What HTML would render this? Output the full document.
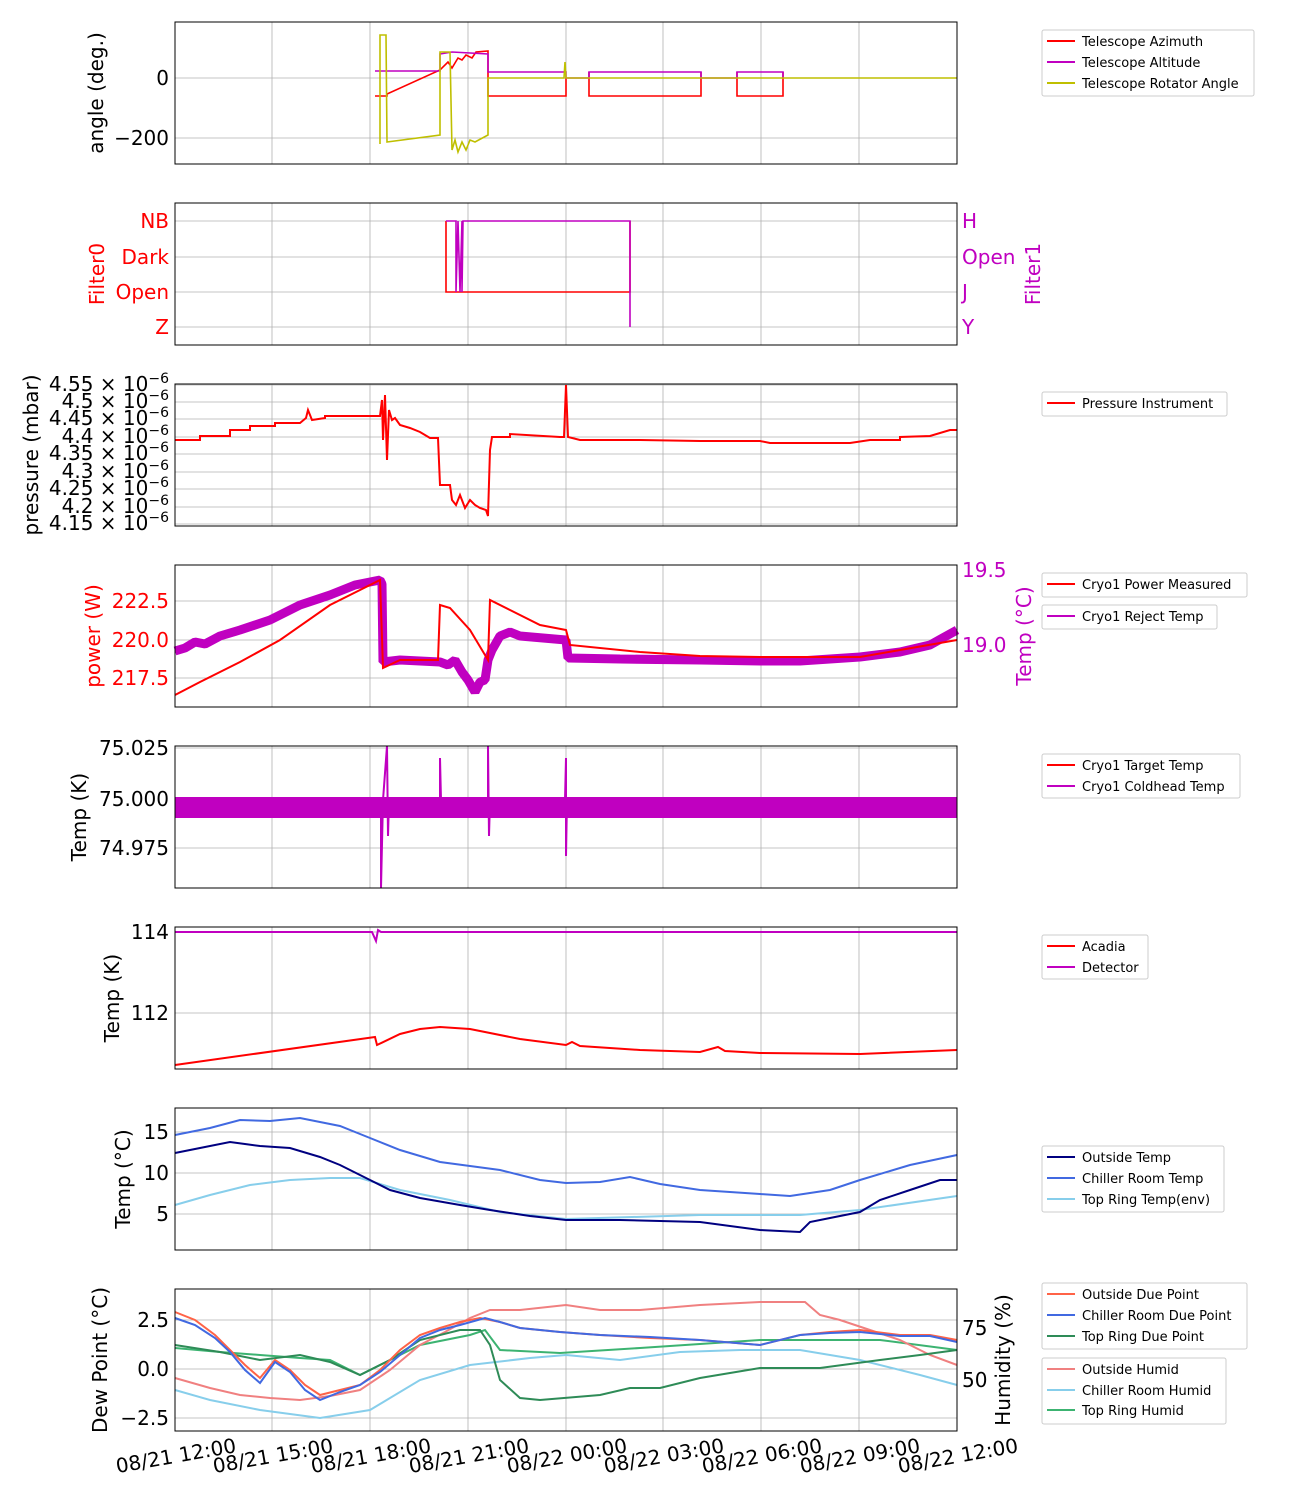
<!DOCTYPE html>
<html><head><meta charset="utf-8"><style>
body{margin:0;background:#fff}
svg{font-family:"DejaVu Sans","Liberation Sans",sans-serif}
.t{font-size:20px}
.l{font-size:13px}
</style></head><body>
<svg width="1300" height="1500" viewBox="0 0 1300 1500" xmlns="http://www.w3.org/2000/svg">
<defs>
<g id="vg" stroke="#b0b0b0" stroke-width="0.8">
<line x1="272" x2="272" y1="0" y2="142"/><line x1="370" x2="370" y1="0" y2="142"/><line x1="468" x2="468" y1="0" y2="142"/><line x1="566" x2="566" y1="0" y2="142"/><line x1="663" x2="663" y1="0" y2="142"/><line x1="761" x2="761" y1="0" y2="142"/><line x1="859" x2="859" y1="0" y2="142"/>
</g>
</defs>
<g fill="none">
<use href="#vg" y="22"/><use href="#vg" y="203"/><use href="#vg" y="384"/><use href="#vg" y="565"/><use href="#vg" y="746"/><use href="#vg" y="927"/><use href="#vg" y="1108"/><use href="#vg" y="1289"/>
<g stroke="#b0b0b0" stroke-width="0.8">
<line x1="175" x2="957" y1="78" y2="78"/><line x1="175" x2="957" y1="138" y2="138"/>
<line x1="175" x2="957" y1="221" y2="221"/><line x1="175" x2="957" y1="257" y2="257"/><line x1="175" x2="957" y1="292" y2="292"/><line x1="175" x2="957" y1="327" y2="327"/>
<line x1="175" x2="957" y1="385" y2="385"/><line x1="175" x2="957" y1="402" y2="402"/><line x1="175" x2="957" y1="419" y2="419"/><line x1="175" x2="957" y1="437" y2="437"/><line x1="175" x2="957" y1="454" y2="454"/><line x1="175" x2="957" y1="472" y2="472"/><line x1="175" x2="957" y1="489" y2="489"/><line x1="175" x2="957" y1="507" y2="507"/><line x1="175" x2="957" y1="524" y2="524"/>
<line x1="175" x2="957" y1="601" y2="601"/><line x1="175" x2="957" y1="640" y2="640"/><line x1="175" x2="957" y1="678" y2="678"/>
<line x1="175" x2="957" y1="748" y2="748"/><line x1="175" x2="957" y1="799" y2="799"/><line x1="175" x2="957" y1="848" y2="848"/>
<line x1="175" x2="957" y1="932" y2="932"/><line x1="175" x2="957" y1="1013" y2="1013"/>
<line x1="175" x2="957" y1="1132" y2="1132"/><line x1="175" x2="957" y1="1173" y2="1173"/><line x1="175" x2="957" y1="1214" y2="1214"/>
<line x1="175" x2="957" y1="1320" y2="1320"/><line x1="175" x2="957" y1="1369" y2="1369"/><line x1="175" x2="957" y1="1418" y2="1418"/>
</g>

<g stroke-width="1.6">
<polyline stroke="#ff0000" points="375,96 387,96 387,94 440,70 448,62 452,68 458,58 462,60 466,55 472,58 476,52 488,51 488,96 566,96 566,78 566,96"/>
<polyline stroke="#ff0000" points="589,72 589,96 701,96 701,72"/>
<polyline stroke="#ff0000" points="737,72 737,96 783,96 783,72"/>
<polyline stroke="#c000c0" points="375,71 440,71 440,54 452,52 488,54 488,72 566,72 566,78 589,78 589,72 701,72 701,78 737,78 737,72 783,72 783,78"/>
<polyline stroke="#bfbf00" points="380,144 380,35 386,35 387,142 440,135 440,52 450,52 452,150 455,140 458,152 462,142 466,150 470,140 475,142 488,135 488,78 564,78 565,62 566,78 957,78"/>
</g>
<polyline stroke="#ff0000" stroke-width="1.6" points="446,221 446,292 630,292 630,221"/>
<polyline stroke="#c000c0" stroke-width="1.6" points="446,221 456,221 456,292 458,221 460,292 462,221 462,292 463,221 630,221 630,327"/>
<polyline stroke="#ff0000" stroke-width="2" points="175,440 200,440 200,436 230,436 230,430 250,430 250,426 275,426 275,423 300,423 306,418 308,410 312,420 325,418 325,416 380,416 382,400 383,440 385,395 387,460 389,410 392,420 395,418 400,425 410,428 420,432 430,438 438,438 440,485 450,485 452,500 456,505 460,495 465,508 470,500 475,505 480,508 486,510 488,516 490,450 492,437 510,437 510,434 560,437 564,437 566,385 568,437 580,440 640,440 700,441 760,441 770,443 850,443 870,440 900,440 900,437 930,436 950,430 957,430"/>
<polyline stroke="#c000c0" stroke-width="9" stroke-linejoin="bevel" points="175,651 185,648 195,642 205,644 220,636 240,630 270,620 300,605 330,595 355,585 380,580 382,584 383,662 400,660 440,662 448,665 455,660 462,672 468,680 475,692 480,682 485,680 488,660 492,650 500,636 510,632 520,636 566,640 568,658 620,659 700,660 760,661 800,661 860,657 900,652 930,645 957,630"/>
<polyline stroke="#ff0000" stroke-width="2" points="175,695 200,682 240,662 280,640 330,605 360,590 380,580 383,668 400,660 438,660 440,605 450,608 470,630 488,660 490,600 510,610 540,625 566,630 570,645 640,652 700,656 760,657 860,657 900,650 957,640"/>
<rect x="175" y="797" width="782" height="21" fill="#c000c0"/>
<polyline stroke="#c000c0" stroke-width="2" points="381,800 381,888 383,800 387,746 388,836 389,800"/>
<polyline stroke="#c000c0" stroke-width="2" points="440,800 440,758 441,800"/>
<polyline stroke="#c000c0" stroke-width="2" points="488,800 488,746 489,836 490,800"/>
<polyline stroke="#c000c0" stroke-width="2" points="565,800 566,758 566,856 567,800"/>
<polyline stroke="#c000c0" stroke-width="2" points="175,932 372,932 376,941 378,930 381,932 957,932"/>
<polyline stroke="#ff0000" stroke-width="2" points="175,1065 375,1037 377,1045 400,1034 420,1029 440,1027 470,1029 480,1031 520,1039 566,1045 572,1042 580,1046 640,1050 700,1052 718,1047 725,1051 760,1053 860,1054 957,1050"/>
<polyline stroke="#87ceeb" stroke-width="2" points="175,1205 210,1195 250,1185 290,1180 330,1178 360,1178 400,1190 450,1200 500,1212 566,1219 700,1215 800,1215 860,1210 957,1196"/>
<polyline stroke="#4169e1" stroke-width="2" points="175,1135 210,1128 240,1120 270,1121 300,1118 340,1126 370,1138 400,1150 440,1162 470,1166 500,1170 540,1180 566,1183 600,1182 630,1177 660,1184 700,1190 760,1194 790,1196 830,1190 860,1180 910,1165 957,1155"/>
<polyline stroke="#000080" stroke-width="2" points="175,1153 200,1148 230,1142 260,1146 290,1148 320,1157 340,1165 370,1180 390,1190 420,1198 460,1205 490,1210 530,1216 566,1220 620,1220 700,1222 760,1230 800,1232 810,1222 830,1218 860,1212 880,1200 910,1190 940,1180 957,1180"/>
<g stroke-width="2">
<polyline stroke="#87ceeb" points="175,1390 210,1400 260,1410 320,1418 370,1410 420,1380 470,1365 530,1358 566,1355 620,1360 680,1352 740,1350 800,1350 860,1360 920,1375 957,1385"/>
<polyline stroke="#3cb371" points="175,1348 220,1352 260,1355 300,1358 330,1360 360,1375 390,1360 420,1345 470,1335 485,1330 500,1350 560,1353 640,1348 760,1340 880,1340 957,1350"/>
<polyline stroke="#f08080" points="175,1378 210,1388 240,1395 270,1398 300,1400 330,1396 360,1390 390,1370 420,1345 445,1332 470,1318 490,1310 520,1310 566,1305 600,1310 640,1310 700,1305 760,1302 805,1302 820,1315 840,1320 870,1330 900,1340 930,1355 957,1365"/>
<polyline stroke="#2e8b57" points="175,1345 220,1352 260,1360 300,1355 330,1362 360,1375 390,1360 420,1340 460,1330 480,1330 490,1345 500,1380 520,1398 540,1400 600,1395 630,1388 660,1388 700,1378 760,1368 820,1368 880,1360 920,1355 957,1350"/>
<polyline stroke="#ff6347" points="175,1312 195,1320 215,1335 230,1350 245,1365 260,1378 275,1360 290,1370 305,1385 320,1395 340,1390 360,1385 380,1370 400,1350 420,1335 440,1328 460,1322 480,1318 500,1322 520,1328 560,1332 600,1335 650,1338 700,1340 760,1345 800,1335 830,1332 860,1330 900,1335 930,1335 957,1340"/>
<polyline stroke="#4169e1" points="175,1318 195,1325 215,1338 230,1352 245,1370 260,1383 275,1362 290,1372 305,1390 320,1400 340,1392 360,1385 380,1372 400,1355 420,1338 440,1330 460,1325 485,1318 500,1322 520,1328 560,1332 600,1335 650,1337 700,1340 760,1345 800,1335 830,1333 860,1332 900,1336 930,1336 957,1342"/>
</g>

<g stroke="#000" stroke-width="1">
<rect x="175" y="22" width="782" height="142"/>
<rect x="175" y="203" width="782" height="142"/>
<rect x="175" y="384" width="782" height="142"/>
<rect x="175" y="565" width="782" height="142"/>
<rect x="175" y="746" width="782" height="142"/>
<rect x="175" y="927" width="782" height="142"/>
<rect x="175" y="1108" width="782" height="142"/>
<rect x="175" y="1289" width="782" height="142"/>
</g>

<g stroke="#ccc" fill="#fff">
<rect x="1042" y="30" width="212" height="66" rx="2"/>
<rect x="1042" y="392" width="185" height="24" rx="2"/>
<rect x="1042" y="573" width="205" height="24" rx="2"/>
<rect x="1042" y="605" width="175" height="24" rx="2"/>
<rect x="1042" y="754" width="198" height="44" rx="2"/>
<rect x="1042" y="935" width="106" height="44" rx="2"/>
<rect x="1042" y="1146" width="182" height="66" rx="2"/>
<rect x="1042" y="1283" width="205" height="66" rx="2"/>
<rect x="1042" y="1358" width="184" height="66" rx="2"/>
</g>
<g stroke-width="2">
<line x1="1047" x2="1075" y1="41" y2="41" stroke="#ff0000"/>
<line x1="1047" x2="1075" y1="62" y2="62" stroke="#c000c0"/>
<line x1="1047" x2="1075" y1="83" y2="83" stroke="#bfbf00"/>
<line x1="1047" x2="1075" y1="403" y2="403" stroke="#ff0000"/>
<line x1="1047" x2="1075" y1="584" y2="584" stroke="#ff0000"/>
<line x1="1047" x2="1075" y1="616" y2="616" stroke="#c000c0"/>
<line x1="1047" x2="1075" y1="765" y2="765" stroke="#ff0000"/>
<line x1="1047" x2="1075" y1="786" y2="786" stroke="#c000c0"/>
<line x1="1047" x2="1075" y1="946" y2="946" stroke="#ff0000"/>
<line x1="1047" x2="1075" y1="967" y2="967" stroke="#c000c0"/>
<line x1="1047" x2="1075" y1="1157" y2="1157" stroke="#000080"/>
<line x1="1047" x2="1075" y1="1178" y2="1178" stroke="#4169e1"/>
<line x1="1047" x2="1075" y1="1199" y2="1199" stroke="#87ceeb"/>
<line x1="1047" x2="1075" y1="1294" y2="1294" stroke="#ff6347"/>
<line x1="1047" x2="1075" y1="1315" y2="1315" stroke="#4169e1"/>
<line x1="1047" x2="1075" y1="1336" y2="1336" stroke="#2e8b57"/>
<line x1="1047" x2="1075" y1="1369" y2="1369" stroke="#f08080"/>
<line x1="1047" x2="1075" y1="1390" y2="1390" stroke="#87ceeb"/>
<line x1="1047" x2="1075" y1="1410" y2="1410" stroke="#3cb371"/>
</g>
</g>
<g class="l" fill="#000">
<text x="1082" y="46">Telescope Azimuth</text><text x="1082" y="67">Telescope Altitude</text><text x="1082" y="88">Telescope Rotator Angle</text>
<text x="1082" y="408">Pressure Instrument</text>
<text x="1082" y="589">Cryo1 Power Measured</text><text x="1082" y="621">Cryo1 Reject Temp</text>
<text x="1082" y="770">Cryo1 Target Temp</text><text x="1082" y="791">Cryo1 Coldhead Temp</text>
<text x="1082" y="951">Acadia</text><text x="1082" y="972">Detector</text>
<text x="1082" y="1162">Outside Temp</text><text x="1082" y="1183">Chiller Room Temp</text><text x="1082" y="1204">Top Ring Temp(env)</text>
<text x="1082" y="1299">Outside Due Point</text><text x="1082" y="1320">Chiller Room Due Point</text><text x="1082" y="1341">Top Ring Due Point</text>
<text x="1082" y="1374">Outside Humid</text><text x="1082" y="1395">Chiller Room Humid</text><text x="1082" y="1415">Top Ring Humid</text>
</g>

<g class="t" fill="#000" text-anchor="end">
<text x="169" y="85">0</text><text x="169" y="145">−200</text>
<text x="169" y="1139">15</text><text x="169" y="1180">10</text><text x="169" y="1221">5</text>
<text x="169" y="1327">2.5</text><text x="169" y="1376">0.0</text><text x="169" y="1425">−2.5</text>
<text x="169" y="755">75.025</text><text x="169" y="806">75.000</text><text x="169" y="855">74.975</text>
<text x="169" y="939">114</text><text x="169" y="1020">112</text>
</g>
<g class="t" fill="#ff0000" text-anchor="end">
<text x="169" y="228">NB</text><text x="169" y="264">Dark</text><text x="169" y="299">Open</text><text x="169" y="334">Z</text>
<text x="169" y="608">222.5</text><text x="169" y="647">220.0</text><text x="169" y="685">217.5</text>
</g>
<g class="t" fill="#c000c0">
<text x="962" y="228">H</text><text x="962" y="264">Open</text><text x="962" y="299">J</text><text x="962" y="334">Y</text>
<text x="962" y="577">19.5</text><text x="962" y="652">19.0</text>
</g>
<g class="t" fill="#000" text-anchor="end">
<text x="169" y="391">4.55 × 10<tspan dy="-8" font-size="14">−6</tspan></text>
<text x="169" y="408">4.5 × 10<tspan dy="-8" font-size="14">−6</tspan></text>
<text x="169" y="425">4.45 × 10<tspan dy="-8" font-size="14">−6</tspan></text>
<text x="169" y="443">4.4 × 10<tspan dy="-8" font-size="14">−6</tspan></text>
<text x="169" y="460">4.35 × 10<tspan dy="-8" font-size="14">−6</tspan></text>
<text x="169" y="478">4.3 × 10<tspan dy="-8" font-size="14">−6</tspan></text>
<text x="169" y="495">4.25 × 10<tspan dy="-8" font-size="14">−6</tspan></text>
<text x="169" y="513">4.2 × 10<tspan dy="-8" font-size="14">−6</tspan></text>
<text x="169" y="530">4.15 × 10<tspan dy="-8" font-size="14">−6</tspan></text>
</g>
<g class="t" fill="#000">
<text x="962" y="1335">75</text><text x="962" y="1387">50</text>
</g>
<g class="t" fill="#000" text-anchor="end">
<text transform="translate(237,1452) rotate(-10)">08/21 12:00</text>
<text transform="translate(334,1452) rotate(-10)">08/21 15:00</text>
<text transform="translate(432,1452) rotate(-10)">08/21 18:00</text>
<text transform="translate(530,1452) rotate(-10)">08/21 21:00</text>
<text transform="translate(628,1452) rotate(-10)">08/22 00:00</text>
<text transform="translate(725,1452) rotate(-10)">08/22 03:00</text>
<text transform="translate(823,1452) rotate(-10)">08/22 06:00</text>
<text transform="translate(921,1452) rotate(-10)">08/22 09:00</text>
<text transform="translate(1019,1452) rotate(-10)">08/22 12:00</text>
</g>
<g class="t" text-anchor="middle">
<text transform="translate(103,93) rotate(-90)">angle (deg.)</text>
<text transform="translate(104,274) rotate(-90)" fill="#ff0000">Filter0</text>
<text transform="translate(1040,274) rotate(-90)" fill="#c000c0">Filter1</text>
<text transform="translate(38,455) rotate(-90)">pressure (mbar)</text>
<text transform="translate(100,636) rotate(-90)" fill="#ff0000">power (W)</text>
<text transform="translate(1031,636) rotate(-90)" fill="#c000c0">Temp (°C)</text>
<text transform="translate(86,817) rotate(-90)">Temp (K)</text>
<text transform="translate(119,998) rotate(-90)">Temp (K)</text>
<text transform="translate(130,1179) rotate(-90)">Temp (°C)</text>
<text transform="translate(107,1360) rotate(-90)">Dew Point (°C)</text>
<text transform="translate(1010,1360) rotate(-90)">Humidity (%)</text>
</g>
</svg>
</body></html>
